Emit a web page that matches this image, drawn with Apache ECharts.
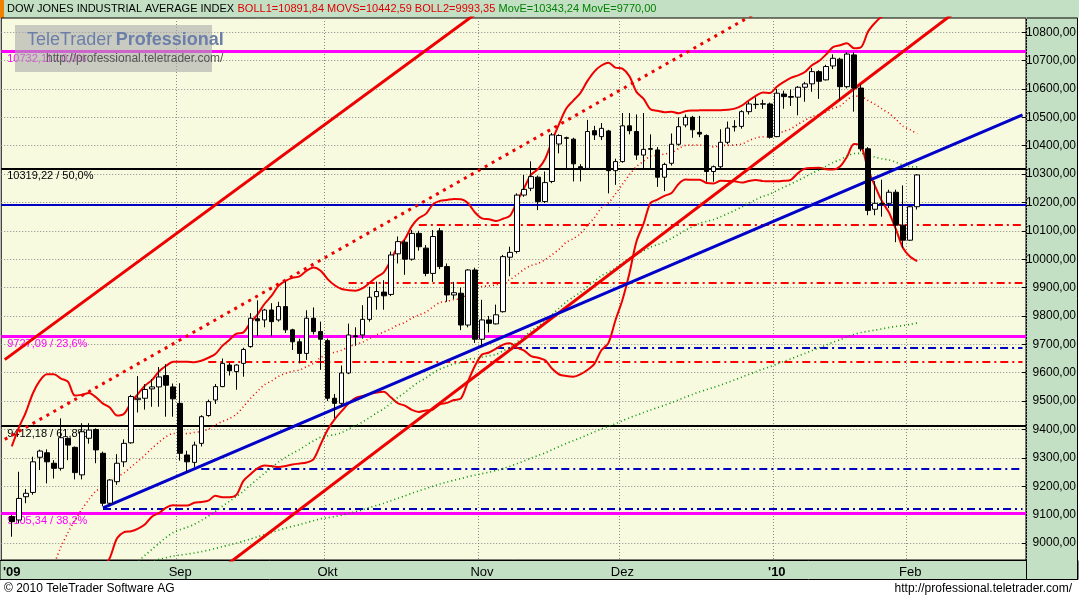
<!DOCTYPE html>
<html>
<head>
<meta charset="utf-8">
<script src="https://cdn.jsdelivr.net/npm/echarts@6.0.0/dist/echarts.min.js"></script>
<style>
  html, body { margin: 0; padding: 0; background: #fff; }
  #chart { width: 1079px; height: 598px; }
</style>
</head>
<body>
<div id="chart"></div>
<script>
// DJIA daily candles, 29.07.2009 - 02.02.2010
const opens = [9093,9081,9163,9178,9302,9318,9281,9263,9369,9337,9240,9369,9400,9316,9140,9216,9286,9353,9505,9510,
  9543,9550,9590,9550,9492,9310,9284,9351,9449,9504,9551,9627,9604,9633,9692,9790,9786,9821,9786,9833,
  9751,9709,9668,9792,9745,9713,9510,9492,9599,9730,9733,9788,9868,9884,9876,10019,10060,10000,10091,10039,
  9950,10100,9974,9874,9880,9768,9962,9718,9786,9772,9815,10007,10027,10226,10250,10289,10203,10274,10406,10428,
  10423,10326,10320,10453,10432,10452,10312,10344,10470,10450,10367,10387,10385,10289,10338,10405,10473,10500,10447,10436,
  10309,10326,10412,10466,10468,10520,10546,10546,10547,10432,10582,10573,10571,10606,10618,10661,10632,10681,10705,10608,
  10720,10603,10389,10176,10196,10197,10236,10120,10067,10185];
const closes = [9075,9157,9175,9286,9324,9286,9263,9371,9345,9248,9392,9398,9328,9140,9222,9281,9351,9516,9510,9541,
  9550,9585,9556,9508,9316,9286,9345,9445,9498,9551,9633,9607,9627,9682,9792,9783,9821,9780,9833,9751,
  9709,9668,9792,9745,9718,9510,9492,9599,9733,9727,9788,9866,9886,9871,10015,10062,10000,10091,10044,9950,
  10080,9974,9874,9882,9768,9962,9718,9786,9774,9804,10009,10024,10226,10246,10291,10203,10270,10438,10436,10426,
  10336,10320,10450,10438,10461,10312,10344,10470,10453,10367,10387,10390,10289,10334,10405,10467,10500,10456,10441,10309,
  10326,10412,10462,10468,10520,10547,10545,10548,10430,10585,10573,10571,10606,10618,10661,10627,10679,10708,10608,10723,
  10603,10389,10172,10197,10194,10236,10120,10067,10185,10297];
const lows = [9022,9070,9140,9170,9257,9210,9227,9255,9292,9224,9224,9350,9281,9130,9133,9205,9268,9350,9460,9470,
  9480,9480,9445,9445,9290,9252,9268,9340,9445,9490,9549,9590,9540,9586,9688,9728,9760,9728,9780,9740,
  9680,9633,9645,9735,9610,9500,9440,9480,9595,9695,9720,9780,9822,9822,9870,9985,9945,9995,10030,9940,
  9920,9965,9850,9860,9750,9760,9705,9692,9742,9770,9812,9940,10020,10220,10240,10173,10198,10268,10373,10315,
  10274,10274,10315,10420,10420,10232,10262,10340,10440,10350,10315,10315,10255,10240,10330,10400,10465,10428,10430,10273,
  10273,10320,10405,10450,10460,10510,10530,10530,10425,10430,10530,10540,10507,10555,10590,10565,10630,10670,10560,10602,
  10520,10380,10155,10155,10150,10180,10060,10040,10065,10175];
const highs = [9098,9251,9190,9304,9329,9330,9292,9439,9372,9340,9422,9422,9404,9322,9225,9313,9365,9522,9588,9560,
  9578,9620,9630,9562,9563,9325,9357,9450,9505,9560,9650,9635,9630,9688,9810,9855,9825,9845,9850,9921,
  9755,9720,9820,9830,9780,9720,9525,9625,9773,9760,9838,9903,9921,9926,10027,10080,10068,10103,10100,10050,
  10103,10110,9985,9920,9900,9965,9970,9857,9800,9840,10015,10044,10232,10297,10345,10295,10309,10445,10440,10432,
  10428,10335,10491,10470,10480,10456,10354,10515,10515,10510,10515,10440,10395,10340,10443,10500,10510,10505,10505,10440,
  10330,10458,10485,10490,10525,10555,10570,10562,10552,10600,10594,10598,10610,10625,10674,10666,10685,10722,10710,10730,
  10730,10615,10395,10275,10280,10245,10245,10260,10190,10300];
// closes before the first candle (01.07. - 28.07.2009), only for the indicators
const preCloses = [8504,8281,8324,8163,8179,8183,8146,8332,8359,8616,8711,8743,8848,8916,8881,9069,9093,9108,9096];

const firstDay = "2009-07-28", lastDay = "2010-02-24";
const holidays = ["2009-09-07","2009-11-26","2009-12-25","2010-01-01","2010-01-18","2010-02-15"];
const monthLabels = {"2009-07-29":"'09","2009-09-01":"Sep","2009-10-01":"Okt","2009-11-02":"Nov",
  "2009-12-01":"Dez","2010-01-04":"'10","2010-02-01":"Feb"};
const yTicks = [9000,9100,9200,9300,9400,9500,9600,9700,9800,9900,10000,10100,10200,10300,10400,10500,10600,10700,10800];

// horizontal lines: [value, colour, type, start date (null = full width), label]
const levels = [
  [10732.11, "#ff00ff", "solid", null, "10732,11 / 0,0%"],
  [10319.22, "#000000", "solid", null, "10319,22 / 50,0%"],
  [9727.09, "#ff00ff", "solid", null, "9727,09 / 23,6%"],
  [9412.18, "#000000", "solid", null, "9412,18 / 61,8%"],
  [9105.34, "#ff00ff", "solid", null, "9105,34 / 38,2%"],
  [10191, "#0000c0", "solid", null, ""],
  [9687, "#0000c0", "dashdot", "2009-11-04", ""],
  [9262, "#0000c0", "dashdot", "2009-09-04", ""],
  [9122, "#0000c0", "dashdot", "2009-08-17", ""],
  [10120, "#ff0000", "dashdot", "2009-10-20", ""],
  [9917, "#ff0000", "dashdot", "2009-10-06", ""],
  [9638, "#ff0000", "dashdot", "2009-09-08", ""]
];
// trend lines: [start date, value, end date, value]
const redUpper = ["2009-07-28", 9646, "2009-11-23", 11154];
const redChannel = ["2009-07-28", 9365, "2009-12-29", 10867];
const redLower = ["2009-09-10", 8911, "2010-02-11", 10901];
const blueTrend = ["2009-08-17", 9124, "2010-02-24", 10509];
const lastPrice = 10296.85;
const emaFastSeed = 8450, emaFastPeriod = 55;
const emaSlowSeed = 8890, emaSlowPeriod = 200;

// trading days
const days = [];
const hol = new Set(holidays);
for (let d = new Date(firstDay + "T12:00:00Z"); d <= new Date(lastDay + "T12:00:00Z"); d.setUTCDate(d.getUTCDate() + 1)) {
  const s = d.toISOString().slice(0, 10);
  const wd = d.getUTCDay();
  if (wd !== 0 && wd !== 6 && !hol.has(s)) days.push(s);
}

const candles = days.map((d, i) => {
  const k = i - 1;
  if (k < 0 || k >= closes.length) return "-";
  return [opens[k], closes[k], lows[k], highs[k]];
});

// indicators from the closes
const all = preCloses.concat(closes);
const base = preCloses.length - 1; // category 0 = last pre-close
const sma = [], bbUp = [], bbLo = [], emaF = [], emaS = [];
let ef = emaFastSeed, es = emaSlowSeed;
const emaF_all = [], emaS_all = [];
all.forEach(c => {
  ef += (c - ef) * 2 / (emaFastPeriod + 1);
  es += (c - es) * 2 / (emaSlowPeriod + 1);
  emaF_all.push(ef); emaS_all.push(es);
});
days.forEach((d, i) => {
  const j = base + i;
  if (j >= all.length || j < 19) { sma.push("-"); bbUp.push("-"); bbLo.push("-"); }
  else {
    const w = all.slice(j - 19, j + 1);
    const m = w.reduce((a, b) => a + b, 0) / 20;
    const sd = Math.sqrt(w.reduce((a, b) => a + (b - m) * (b - m), 0) / 20);
    sma.push(m); bbUp.push(m + 2 * sd); bbLo.push(m - 2 * sd);
  }
  emaF.push(j < all.length ? emaF_all[j] : "-");
  emaS.push(j < all.length ? emaS_all[j] : "-");
});

const chart = echarts.init(document.getElementById("chart"));
const fmt = v => v.toFixed(2).replace(".", ",");
const FONT = "Liberation Sans";

function trend(name, t, color, type) {
  return {
    name, type: "line", data: [[t[0], t[1]], [t[2], t[3]]], symbol: "none", clip: true,
    lineStyle: { color, width: 3, type }, z: 4, silent: true
  };
}
function ind(name, data, color, type, width) {
  return { name, type: "line", data, symbol: "none", smooth: 0.3, lineStyle: { color, width, type }, z: 3, silent: true };
}

const markLines = levels.map(l => {
  const style = { color: l[1], width: l[1] === "#ff00ff" ? 3 : 2, type: l[2] === "dashdot" ? [8, 4, 2, 4] : "solid" };
  const label = { show: !!l[4], formatter: l[4], position: "insideStartBottom", distance: [6, 2],
    color: l[1], fontSize: 11, fontFamily: FONT };
  if (l[3] === null) return { yAxis: l[0], lineStyle: style, label };
  return [{ coord: [l[3], l[0]], lineStyle: style, label: { show: false } }, { coord: [days[days.length - 1], l[0]] }];
});
markLines.push({
  yAxis: lastPrice, lineStyle: { opacity: 0 },
  label: { show: true, position: "end", formatter: fmt(lastPrice), backgroundColor: "#000", color: "#fff",
    fontSize: 12, fontFamily: FONT, padding: [3, 3, 2, 3], distance: 2 }
});

chart.setOption({
  animation: false,
  backgroundColor: "#fff",
  textStyle: { fontFamily: FONT },
  graphic: [
    { type: "rect", shape: { x: 0, y: 0, width: 1079, height: 18 }, style: { fill: "#c4e0c4" }, z: -1 },
    { type: "rect", shape: { x: 0, y: 0, width: 4, height: 18 }, style: { fill: "#f08000" }, z: -1 },
    { type: "rect", shape: { x: 0, y: 560.5, width: 1078, height: 19 }, style: { fill: "#c4e0c4", stroke: "#000", lineWidth: 1 }, z: -1 },
    { type: "rect", shape: { x: 1026.5, y: 18, width: 51, height: 561.5 }, style: { fill: "#c4e0c4", stroke: "#000", lineWidth: 1 }, z: -1 },
    { type: "text", left: 7, top: 3, z: 10, style: {
      text: "{k|DOW JONES INDUSTRIAL AVERAGE INDEX} {r|BOLL1=10891,84 MOVS=10442,59 BOLL2=9993,35} {g|MovE=10343,24 MovE=9770,00}",
      rich: { k: { fill: "#000", fontSize: 11, fontFamily: FONT }, r: { fill: "#e00000", fontSize: 11, fontFamily: FONT },
        g: { fill: "#008000", fontSize: 11, fontFamily: FONT } } } },
    { type: "rect", shape: { x: 15, y: 25, width: 197, height: 47 }, style: { fill: "rgba(170,170,170,0.6)" }, z: 20 },
    { type: "text", left: 27, top: 31, z: 21, style: { text: "{a|TeleTrader} {b|Professional}",
      rich: { a: { fill: "#6b7fa8", fontSize: 18, fontFamily: FONT }, b: { fill: "#6b7fa8", fontSize: 18, fontWeight: "bold", fontFamily: FONT } } } },
    { type: "text", left: 46, top: 53, z: 21, style: { text: "http://professional.teletrader.com/", fill: "#555", fontSize: 12, fontFamily: FONT } },
    { type: "text", left: 4, top: 583, style: { text: "© 2010 TeleTrader Software AG", fill: "#000", fontSize: 12, fontFamily: FONT } },
    { type: "text", right: 7, top: 583, style: { text: "http://professional.teletrader.com/", fill: "#000", fontSize: 12, fontFamily: FONT } }
  ],
  grid: { left: 1, right: 52, top: 18, bottom: 38, show: true, backgroundColor: "#f8fae0", borderColor: "#000", borderWidth: 1 },
  xAxis: {
    type: "category", data: days, boundaryGap: true,
    axisLine: { show: false }, axisTick: { show: false },
    axisLabel: {
      interval: (i, v) => v in monthLabels,
      formatter: v => monthLabels[v].startsWith("'") ? "{b|" + monthLabels[v] + "}" : monthLabels[v],
      color: "#000", fontSize: 13, margin: 6, fontFamily: FONT,
      rich: { b: { fontWeight: "bold", fontSize: 13, fontFamily: FONT, color: "#000" } }
    },
    splitLine: { show: true, interval: (i, v) => v in monthLabels && i > 1, lineStyle: { color: "#888", type: [1, 2] } }
  },
  yAxis: {
    type: "value", position: "right", min: 8940, max: 10850, scale: true,
    axisLine: { show: false },
    axisTick: { show: true, inside: true, length: 4, customValues: yTicks, lineStyle: { color: "#000" } },
    axisLabel: { customValues: yTicks, formatter: fmt, align: "right", margin: 50, color: "#000", fontSize: 12, fontFamily: FONT },
    splitLine: { show: true, lineStyle: { color: "#888", type: [1, 2] } }
  },
  series: [
    ind("BOLL1", bbUp, "#ee0000", "solid", 2),
    ind("BOLL2", bbLo, "#ee0000", "solid", 2),
    ind("MOVS", sma, "#ee0000", [1, 3], 1.6),
    ind("MovE", emaF, "#009000", [1, 3], 1.6),
    ind("MovE2", emaS, "#009000", [1, 3], 1.6),
    trend("up", redUpper, "#ee0000", "solid"),
    trend("channel", redChannel, "#ee0000", [3, 5]),
    trend("low", redLower, "#ee0000", "solid"),
    trend("blue", blueTrend, "#0000c8", "solid"),
    {
      name: "DJIA", type: "candlestick", data: candles, barWidth: 5, z: 5,
      itemStyle: { color: "#fff", color0: "#000", borderColor: "#000", borderColor0: "#000", borderWidth: 1 },
      markLine: { symbol: "none", silent: true, animation: false, z: 2, data: markLines }
    }
  ]
});
</script>
</body>
</html>
